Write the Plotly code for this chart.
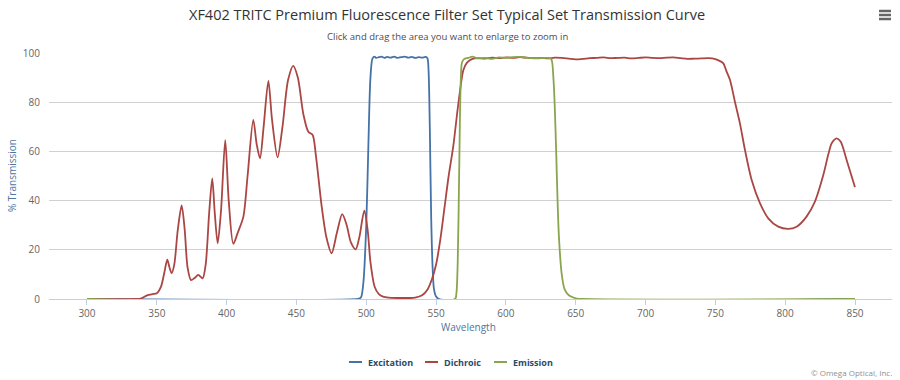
import plotly.graph_objects as go

# ---------------- data ----------------
ex_wl = [300, 494, 495.5, 496.5, 498, 500, 501.5, 503, 504.5, 506, 507, 509, 511, 513, 515, 517.5,
         520, 522.5, 525, 527.5, 530, 532.5, 535, 537.5, 540, 542.5, 543.8, 544.6, 545.5, 546.5,
         547.5, 548.5, 550, 552, 850]
ex_val = [0, 0, 0.3, 1, 7, 30, 62, 90, 97.8, 98.5, 98.0, 98.3, 98.5, 98.0, 98.4, 98.1,
          98.5, 98.0, 98.3, 98.5, 98.1, 98.4, 98.0, 98.3, 98.1, 98.4, 97.9, 93, 70, 33,
          13, 4, 1, 0, 0]

di_wl = [300, 335, 339, 343, 347, 350, 353, 355.5, 357.5, 359, 360.6, 362.5, 365, 367.8, 370, 372,
         374.5, 377, 379.7, 382.8, 385, 387.5, 389.7, 391.5, 393.6, 396, 399, 401.5, 404.8, 408,
         412, 415, 419.1, 421.5, 423.9, 426.5, 429.9, 432.5, 436.5, 440, 444, 447.7, 451, 455,
         458.5, 461.6, 464, 468, 471.5, 475.2, 479, 482.8, 486, 489, 492.4, 495, 498.6, 501,
         503, 506, 509, 512, 516, 525, 535, 540, 544, 547, 550, 553, 556, 559, 562.3, 565,
         567, 569.5, 572, 576, 580, 585, 590, 595, 600, 605, 610, 615, 620, 625, 630, 635,
         640, 645, 650, 655, 660, 665, 670, 675, 680, 685, 690, 695, 700, 705, 710, 715,
         720, 725, 730, 735, 740, 745, 750, 753, 755.7, 758, 760.5, 764, 767.6, 771.2, 776,
         782, 787.9, 795, 802.2, 808.2, 815.3, 821.3, 827.3, 831, 833.3, 836.8, 839.7, 844,
         849.5, 850]
di_val = [0, 0, 0.3, 1.5, 2, 2.3, 5, 11, 16, 13, 10.5, 14, 28, 38, 28, 13,
          7.7, 8.5, 9.8, 8.4, 14, 35, 49, 35, 22.6, 36, 64.6, 40, 22.4, 27,
          33.5, 50, 72.8, 63, 57.2, 70, 88.7, 73, 57.6, 70, 89, 94.8, 90, 75,
          68, 66.7, 58, 38, 25, 18.6, 27, 34.5, 30, 23, 20.2, 25, 35.9, 28,
          15, 5, 2, 1, 0.6, 0.4, 0.6, 1.5, 4, 8, 14, 24, 37, 50, 62, 75,
          84, 93, 96, 97.6, 97.9, 97.7, 98.1, 97.9, 98.2, 98.0, 98.3, 98.1, 97.9, 98.0, 97.8, 98.1,
          98.0, 97.7, 97.4, 97.6, 97.9, 98.0, 98.2, 97.9, 98.0, 98.1, 97.8, 98.0, 98.2, 98.0, 97.9, 98.1,
          98.2, 97.9, 97.6, 97.7, 97.8, 97.9, 97.5, 96.8, 95.8, 92.5, 89, 80.2, 71.4, 60.6, 48.4,
          38.9, 32.8, 29.4, 28.5, 29.4, 33.5, 39.6, 50.4, 59, 63.3, 65.3, 64, 56.5,
          46.3, 45.5]

em_wl = [300, 563.5, 564.5, 565.5, 566.5, 567.5, 568.5, 570, 573, 576, 580, 585, 590, 595, 600,
         605, 610, 615, 620, 625, 630, 632.5, 634, 635, 636, 637, 638, 640, 642, 645, 650, 655, 850]
em_val = [0, 0, 2, 15, 50, 85, 96, 97.5, 98, 98.5, 97.8, 98, 97.6, 98.2, 98,
          98.3, 98.4, 98, 97.8, 97.9, 98, 97.5, 90, 78, 60, 40, 25, 10, 4, 1.5, 0.3, 0, 0]

series_names = ["Excitation", "Dichroic", "Emission"]
series_colors = ["#4572A7", "#AA4643", "#89A54E"]
x_ticks = [300, 350, 400, 450, 500, 550, 600, 650, 700, 750, 800, 850]
y_ticks = [0, 20, 40, 60, 80, 100]

# ---------------- layout geometry (pixels) ----------------
W, H = 900, 380
L, R, T, B = 49, 8, 53, 81
PW, PH = W - L - R, H - T - B
FONT = "Open Sans"


def px(xp):
    return (xp - L) / PW


def py(yp):
    return (H - B - yp) / PH


fig = go.Figure()
for wl, val, name, col in zip([ex_wl, di_wl, em_wl], [ex_val, di_val, em_val],
                              series_names, series_colors):
    fig.add_trace(go.Scatter(x=wl, y=val, name=name, mode="lines",
                             line=dict(color=col, width=1.8, shape="spline", smoothing=0.8),
                             showlegend=False, hoverinfo="x+y+name"))

annotations = [
    dict(text="XF402 TRITC Premium Fluorescence Filter Set Typical Set Transmission Curve",
         x=px(447), y=py(14), font=dict(size=14.5, color="#333333", family=FONT)),
    dict(text="Click and drag the area you want to enlarge to zoom in",
         x=px(447), y=py(36), font=dict(size=9.5, color="#4d4d4d", family=FONT)),
    dict(text="Wavelength", x=px(468), y=py(327),
         font=dict(size=10, color="#4d759e", family=FONT)),
    dict(text="% Transmission", x=px(12), y=py(176), textangle=-90,
         font=dict(size=10, color="#4d759e", family=FONT)),
    dict(text="© Omega Optical, Inc.", x=px(894), y=py(372), xanchor="right",
         font=dict(size=8, color="#909090", family=FONT)),
]

shapes = []
leg_pos = [(349, 365.5), (425, 441.5), (494, 510.5)]
for (lx, tx), name, col in zip(leg_pos, series_names, series_colors):
    shapes.append(dict(type="line", xref="paper", yref="paper",
                       x0=px(lx), x1=px(lx + 13), y0=py(362), y1=py(362),
                       line=dict(color=col, width=2)))
    annotations.append(dict(text="<b>" + name + "</b>", x=px(tx), y=py(362), xanchor="left",
                            font=dict(size=9, color="#274b6d", family=FONT)))

# hamburger menu icon
for yy in (11, 15, 19):
    shapes.append(dict(type="line", xref="paper", yref="paper",
                       x0=px(879), x1=px(891), y0=py(yy), y1=py(yy),
                       line=dict(color="#666666", width=2.5)))

for a in annotations:
    a.setdefault("xref", "paper")
    a.setdefault("yref", "paper")
    a.setdefault("showarrow", False)
    a.setdefault("xanchor", "center")
    a.setdefault("yanchor", "middle")

fig.update_layout(
    width=W, height=H,
    margin=dict(l=L, r=R, t=T, b=B),
    paper_bgcolor="white", plot_bgcolor="white",
    font=dict(family=FONT, size=10, color="#666666"),
    annotations=annotations, shapes=shapes,
    xaxis=dict(range=[272.8, 876.5], tickvals=x_ticks, showgrid=False, zeroline=False,
               showline=True, linecolor="#C0D0E0", linewidth=1,
               ticks="outside", ticklen=5, tickcolor="#C0D0E0",
               tickfont=dict(size=10, color="#666666", family=FONT)),
    yaxis=dict(range=[0, 100], tickvals=y_ticks, showgrid=True, gridcolor="#D0D0D0",
               gridwidth=1, zeroline=False, showline=False, ticks="",
               ticklabelstandoff=8,
               tickfont=dict(size=10, color="#666666", family=FONT)),
    hovermode="closest",
)

fig.write_html("out.html", config={"displayModeBar": False},
               post_script="document.body.style.margin='0';document.body.style.padding='0';"
                           "document.body.style.overflow='hidden';")
